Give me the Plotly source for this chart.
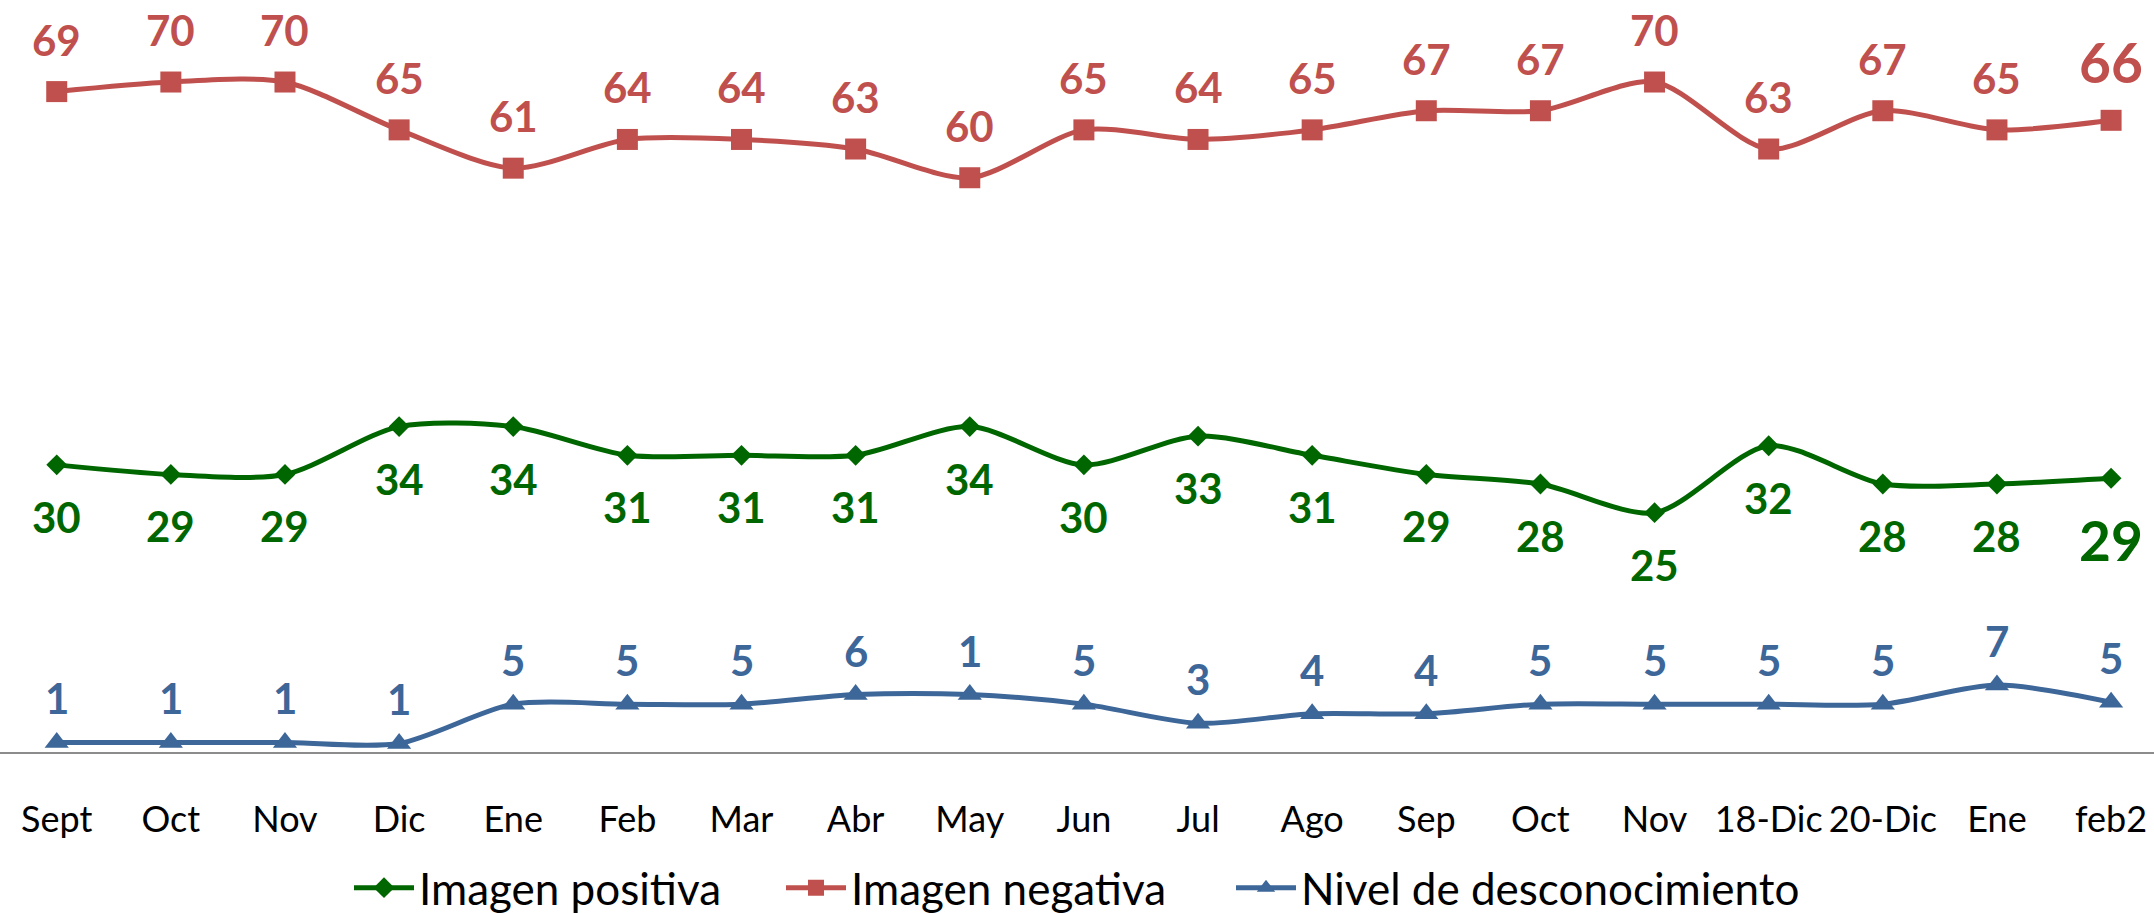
import plotly.graph_objects as go

categories = ["Sept", "Oct", "Nov", "Dic", "Ene", "Feb", "Mar", "Abr", "May", "Jun",
              "Jul", "Ago", "Sep", "Oct", "Nov", "18-Dic", "20-Dic", "Ene", "feb2"]

positiva = [30, 29, 29, 34, 34, 31, 31, 31, 34, 30, 33, 31, 29, 28, 25, 32, 28, 28, 28.6]
positiva_labels = ["30", "29", "29", "34", "34", "31", "31", "31", "34", "30", "33", "31",
                   "29", "28", "25", "32", "28", "28", "29"]

negativa = [69, 70, 70, 65, 61, 64, 64, 63, 60, 65, 64, 65, 67, 67, 70, 63, 67, 65, 66]
negativa_labels = ["69", "70", "70", "65", "61", "64", "64", "63", "60", "65", "64", "65",
                   "67", "67", "70", "63", "67", "65", "66"]

desconocimiento = [1, 1, 1, 0.9, 5, 5, 5, 6, 6, 5, 3, 4, 4, 5, 5, 5, 5, 7, 5.2]
desconocimiento_labels = ["1", "1", "1", "1", "5", "5", "5", "6", "1", "5", "3", "4",
                          "4", "5", "5", "5", "5", "7", "5"]

GREEN = "#006600"
RED = "#C0504D"
BLUE = "#3D6699"
FONT = "Lato"

x = list(range(len(categories)))

fig = go.Figure()
series = [
    ("Imagen positiva", positiva, positiva_labels, GREEN, "diamond", 16, "legend", 349),
    ("Imagen negativa", negativa, negativa_labels, RED, "square", 21, "legend2", 781),
    ("Nivel de desconocimiento", desconocimiento, desconocimiento_labels, BLUE, "triangle-up", 21, "legend3", 1231),
]
annotations = []
legends = {}
for name, vals, labels, color, symbol, msize, leg, legx in series:
    fig.add_trace(go.Scatter(
        x=x, y=vals, name=name, mode="lines+markers",
        line=dict(color=color, width=5, shape="spline", smoothing=0.8),
        marker=dict(symbol=symbol, size=msize, color=color),
        cliponaxis=False, legend=leg,
    ))
    legends[leg] = dict(orientation="h", x=legx / 2154, xanchor="left", y=-0.181, yanchor="middle",
                        font=dict(family=FONT, size=44, color="black"),
                        itemwidth=60, bgcolor="rgba(0,0,0,0)")
    last = len(vals) - 1
    for i, (v, t) in enumerate(zip(vals, labels)):
        big = (i == last and name != "Nivel de desconocimiento")
        if name == "Imagen negativa":
            shift = 58 if big else 52
        elif name == "Imagen positiva":
            shift = -62 if big else -52
        else:
            shift = 44
        annotations.append(dict(
            x=i, y=v, text="<b>%s</b>" % t, showarrow=False,
            xanchor="center", yanchor="middle", yshift=shift,
            font=dict(family=FONT, size=55 if big else 42, color=color),
        ))

fig.update_layout(
    width=2154, height=913,
    margin=dict(l=0, r=0, t=0, b=161, autoexpand=False),
    paper_bgcolor="white", plot_bgcolor="white",
    showlegend=True,
    annotations=annotations,
    xaxis=dict(range=[-0.497, 18.376], tickmode="array", tickvals=x, ticktext=categories,
               tickangle=0, automargin=False,
               showgrid=False, zeroline=False, showline=True, linecolor="#8C8C8C",
               linewidth=2, ticks="", ticklabelstandoff=35,
               tickfont=dict(family=FONT, size=36, color="black")),
    yaxis=dict(range=[0, 78.57], visible=False, showgrid=False, zeroline=False,
               automargin=False),
    **legends,
)

fig.write_html("out.html", config={"displayModeBar": False},
               post_script="document.body.style.margin='0';document.body.style.overflow='hidden';")
